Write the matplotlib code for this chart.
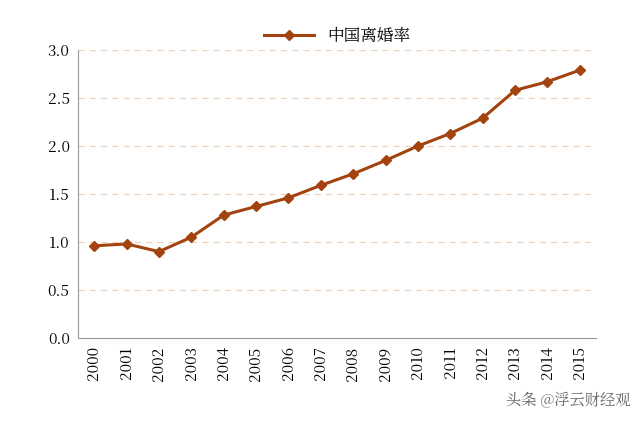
import matplotlib.pyplot as plt
from matplotlib import font_manager as fm

# find a CJK font file and register it
cjk = None
for f in fm.findSystemFonts():
    if 'CJK' in f or 'cjk' in f:
        fm.fontManager.addfont(f)
        cjk = fm.FontProperties(fname=f).get_name()
        if 'SC' in cjk:
            break
plt.rcParams['font.family'] = [cjk or 'Noto Sans CJK SC', 'DejaVu Sans']

years = ['2000', '2001', '2002', '2003', '2004', '2005', '2006', '2007',
         '2008', '2009', '2010', '2011', '2012', '2013', '2014', '2015']
rates = [0.96, 0.98, 0.90, 1.05, 1.28, 1.37, 1.46, 1.59,
         1.71, 1.85, 2.00, 2.13, 2.29, 2.58, 2.67, 2.79]
yticks = [0.0, 0.5, 1.0, 1.5, 2.0, 2.5, 3.0]

color = '#A3430F'
fig = plt.figure(figsize=(6.4, 4.22), dpi=100)
ax = fig.add_axes([78/640, 1-338/422, 518/640, 288/422])
x = list(range(len(years)))
ax.plot(x, rates, '-D', color=color, lw=2.2, ms=5, label='中国离婚率')
ax.set_xlim(-0.5, len(years) - 0.5)
ax.set_ylim(0, 3.0)
ax.set_yticks(yticks)
ax.set_yticklabels([f'{v:.1f}' for v in yticks], fontsize=11)
ax.set_xticks(x)
ax.set_xticklabels(years, rotation=90, fontsize=11)
for v in yticks[1:]:
    ax.axhline(v, color='#EBD3BC', lw=0.9, ls=(0, (5, 4)), zorder=0)
for s in ['top', 'right']:
    ax.spines[s].set_visible(False)
for s in ['left', 'bottom']:
    ax.spines[s].set_color('#999999')
ax.tick_params(axis='both', length=0, pad=6)
ax.legend(loc='upper center', bbox_to_anchor=(0.5, 1.13), frameon=False,
          fontsize=12, handlelength=3)
fig.text(0.985, 0.03, '头条 @浮云财经观', ha='right', va='bottom',
         fontsize=11, color='#666666')
fig.savefig('out.png', dpi=100)
